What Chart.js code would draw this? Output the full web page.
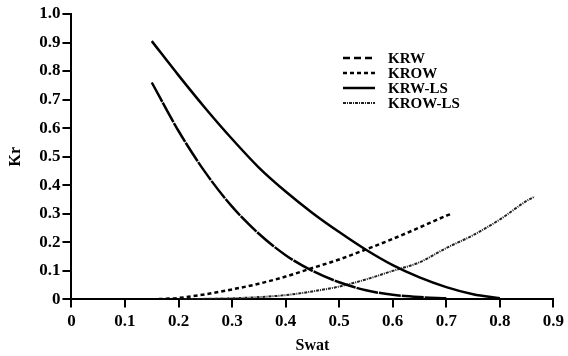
<!DOCTYPE html>
<html>
<head>
<meta charset="utf-8">
<script src="https://cdn.jsdelivr.net/npm/chart.js@4"></script>
<style>
  html, body { margin: 0; padding: 0; background: #fff; }
  #wrap { width: 568px; height: 356px; }
</style>
</head>
<body>
<div id="wrap"><canvas id="krChart"></canvas></div>
<script>
// Data
const xTicks = [0, 0.1, 0.2, 0.3, 0.4, 0.5, 0.6, 0.7, 0.8, 0.9];
const yTicks = [0, 0.1, 0.2, 0.3, 0.4, 0.5, 0.6, 0.7, 0.8, 0.9, 1.0];

const krwSwat = [0.15, 0.2, 0.25, 0.3, 0.35, 0.4, 0.45, 0.5, 0.55, 0.6, 0.65, 0.7];
const krwValues = [0.76, 0.59, 0.445, 0.325, 0.23, 0.155, 0.10, 0.06, 0.032, 0.016, 0.008, 0.004];

const krowSwat = [0.15, 0.2, 0.25, 0.3, 0.35, 0.4, 0.45, 0.5, 0.55, 0.6, 0.65, 0.7, 0.71];
const krowValues = [0, 0.005, 0.018, 0.035, 0.055, 0.08, 0.11, 0.14, 0.175, 0.212, 0.252, 0.293, 0.30];

const krwLsSwat = [0.15, 0.2, 0.25, 0.3, 0.35, 0.4, 0.45, 0.5, 0.55, 0.6, 0.65, 0.7, 0.75, 0.8];
const krwLsValues = [0.905, 0.785, 0.67, 0.562, 0.462, 0.378, 0.303, 0.236, 0.174, 0.12, 0.077, 0.043, 0.018, 0.004];

const krowLsSwat = [0.2, 0.25, 0.3, 0.35, 0.4, 0.45, 0.5, 0.55, 0.6, 0.65, 0.7, 0.75, 0.8, 0.85, 0.865];
const krowLsValues = [0, 0.002, 0.004, 0.008, 0.015, 0.028, 0.045, 0.07, 0.10, 0.13, 0.18, 0.225, 0.28, 0.345, 0.36];

const serif = "'Liberation Serif', 'Times New Roman', serif";

function toPoints(xs, ys) {
  return xs.map((x, i) => ({ x: x, y: ys[i] }));
}

// legend drawn inside the plot area, top right
const insideLegend = {
  id: "insideLegend",
  afterDraw(chart) {
    const ctx = chart.ctx;
    const x0 = 343, x1 = 375, tx = 388;
    let y = 58;
    ctx.save();
    ctx.font = "bold 15px " + serif;
    ctx.textBaseline = "middle";
    ctx.fillStyle = "#000";
    chart.data.datasets.forEach((ds) => {
      ctx.beginPath();
      ctx.setLineDash(ds.legendDash || []);
      ctx.lineWidth = ds.borderWidth;
      ctx.strokeStyle = ds.borderColor;
      ctx.moveTo(x0, y);
      ctx.lineTo(x1, y);
      ctx.stroke();
      ctx.setLineDash([]);
      ctx.fillText(ds.label, tx, y + 1);
      y += 15;
    });
    ctx.restore();
  },
};

const ctx = document.getElementById("krChart").getContext("2d");

new Chart(ctx, {
  type: "line",
  data: {
    datasets: [
      {
        label: "KRW",
        data: toPoints(krwSwat, krwValues),
        borderColor: "#000",
        borderWidth: 2.5,
        borderDash: [22, 1],
        legendDash: [7, 4],
        pointRadius: 0,
        cubicInterpolationMode: "monotone",
      },
      {
        label: "KROW",
        data: toPoints(krowSwat, krowValues),
        borderColor: "#000",
        borderWidth: 2.5,
        borderDash: [4, 3],
        legendDash: [4, 3],
        pointRadius: 0,
        cubicInterpolationMode: "monotone",
      },
      {
        label: "KRW-LS",
        data: toPoints(krwLsSwat, krwLsValues),
        borderColor: "#000",
        borderWidth: 2.5,
        legendDash: [],
        pointRadius: 0,
        cubicInterpolationMode: "monotone",
      },
      {
        label: "KROW-LS",
        data: toPoints(krowLsSwat, krowLsValues),
        borderColor: "#222",
        borderWidth: 2,
        borderDash: [3, 1, 1, 1],
        legendDash: [3, 1, 1, 1],
        pointRadius: 0,
        cubicInterpolationMode: "monotone",
      },
    ],
  },
  options: {
    responsive: true,
    maintainAspectRatio: false,
    animation: false,
    layout: { padding: { top: 14, right: 0, left: 6, bottom: 1 } },
    plugins: {
      legend: { display: false },
      tooltip: { enabled: false },
    },
    scales: {
      x: {
        type: "linear",
        min: 0,
        max: 0.9,
        afterBuildTicks: (axis) => {
          axis.ticks = xTicks.map((v) => ({ value: v }));
        },
        ticks: {
          color: "#000",
          font: { family: serif, size: 17, weight: "bold" },
          padding: 4,
          maxRotation: 0,
          callback: (v) => (v === 0 ? "0" : v.toFixed(1)),
        },
        grid: {
          drawOnChartArea: false,
          drawTicks: true,
          tickLength: 8,
          color: "#000",
          lineWidth: 2,
        },
        border: { display: true, color: "#000", width: 2 },
        title: {
          display: true,
          text: "Swat",
          color: "#000",
          font: { family: serif, size: 16, weight: "bold" },
          padding: { top: 0, bottom: 0 },
        },
      },
      y: {
        type: "linear",
        min: 0,
        max: 1.0,
        afterBuildTicks: (axis) => {
          axis.ticks = yTicks.map((v) => ({ value: v }));
        },
        ticks: {
          color: "#000",
          font: { family: serif, size: 17, weight: "bold" },
          padding: 2,
          callback: (v) => (v === 0 ? "0" : v.toFixed(1)),
        },
        grid: {
          drawOnChartArea: false,
          drawTicks: true,
          tickLength: 9,
          color: "#000",
          lineWidth: 2,
        },
        border: { display: true, color: "#000", width: 2 },
        title: {
          display: true,
          text: "Kr",
          color: "#000",
          font: { family: serif, size: 16, weight: "bold" },
          padding: { top: 0, bottom: 12 },
        },
      },
    },
  },
  plugins: [insideLegend],
});
</script>
</body>
</html>
